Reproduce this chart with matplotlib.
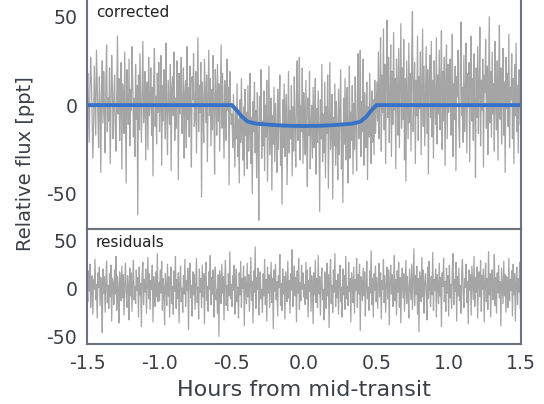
import numpy as np
import matplotlib
matplotlib.use("Agg")
import matplotlib.pyplot as plt

plt.rcParams["axes.unicode_minus"] = False

# detrended flux (ppt), left to right
flux_pre = [5, 18, -3, -21, 9, 27, 14, -8, -30, -12, 22, 3, -17, 31, 11, -6, -24, 16, 0, -38,
            7, 25, -10, 19, -2, -27, 13, 34, -15, 4, -9, 21, -33, -4, 28, 10, -19, 2, 17, -13,
            -26, 8, 39, -5, 15, -20, -1, 24, -36, 12, 6, -16, 30, -7, -44, 20, 1, -11, 26, -23,
            9, -3, 33, 14, -18, 4, -29, 23, -8, 11, -62, 17, -14, 29, 3, -21, 8, 36, -10, -2,
            19, -31, 6, 13, -25, 27, -6, 0, 21, -17, 10, -40, 15, 32, -12, 5, -22, 18, -4, 24,
            -15, 2, 28, -34, 11, -9, 20, 7, -19, 35, -3, -28, 14, 1, -11, 23, -37, 9, 16, -6,
            30, -20, 4, -13, 25, 12, -42, 18, -5, 8, 27, -16, -1, 21, -30, 6, 14, -24, 33, -8,
            10, -18, 22, -2, -35, 16, 3, 29, -12, -7, 19, -27, 5, 38, -15, 11, -4, 24, -52, 13,
            1, -21, 26, 8, -10, 17, -32, 4, 31, -6, 15, -23, 9, -14, 28, -1, -39, 20, 6, -17,
            23, -9, 12, -26, 3, 34, -13, 18, -5, -30, 14, 7, -20, 26, -3, 10, -45, 19, 2, -11]
flux_in = [-5, -24, 6, -16, -35, -2, -19, 12, -29, -8, -44, 3, -21, 15, -13, -31, -1, -40, 9, -17,
           -4, -36, 11, -26, -12, 18, -33, -7, -50, 2, -15, 13, -27, -3, -41, 7, -20, -65, 5, -11,
           20, -30, -9, -23, 8, -37, 0, -18, 14, -43, -10, 22, -28, -14, 4, -48, -6, -22, 10, -32,
           1, -16, -38, 9, -25, -2, 17, -34, -12, -56, 3, -24, 12, -29, -5, 6, -45, -15, 19, -27,
           -3, -19, 11, -40, -1, -26, 16, -13, -35, 5, 25, -20, -9, 27, -31, 0, -15, 21, -33, 7,
           -8, -28, 14, -22, -46, 4, -17, 19, -36, -11, 0, -30, 10, -24, -6, 15, -39, -2, -21, 8,
           -14, -60, 3, -19, 23, -32, -5, -27, 13, -41, -1, -16, 17, -47, -10, 24, -25, -13, 6, -53,
           -7, -23, 12, -34, 2, -18, -42, 9, -28, -3, 20, -36, -12, -55, 4, -22, 15, -31, -8, 10,
           -44, -14, 22, -30, -4, -20, 11, -39, 1, -25, 16, -13, -37, 5, 29, -19, -9, 31, -29, 2,
           -15, 26, -34, 7, -6, -24, 13, -42, -1, -18, 18, -10, -33, 8, -21, 3, -28, 14, -16, -3]
flux_post = [13, -9, 30, -19, 6, 38, -26, 17, -4, 43, -14, 23, -33, 11, 48, -7, 27, -21, 4, 34,
             -29, 19, -11, 41, -3, 15, -36, 26, 9, -17, 32, -24, 11, 46, -13, 21, -8, 37, -31, 15,
             -43, 25, 3, -19, 35, -10, 18, -26, 29, 53, -15, 7, 24, -33, 14, -6, 39, -20, 16, -2,
             30, -28, 10, 43, -12, 22, -23, 5, 33, -16, 20, -39, 12, 28, -7, 36, -18, 14, -30, 25,
             2, -11, 38, -22, 17, -5, 31, -14, 9, 42, -25, 19, -9, 27, -34, 13, 34, -19, 23, -4,
             8, 26, -17, 3, 40, -29, 12, -8, 22, -37, 16, 5, 31, -12, -24, 20, 47, -6, 10, -21,
             28, -15, 6, 35, -27, 18, -1, 24, -32, 11, 39, -9, 15, -20, 29, 2, -41, 21, -7, 33,
             -16, 9, 44, -23, 14, -3, 26, -35, 17, 7, 37, -13, 22, -28, 4, 50, -10, 19, -18, 30,
             -5, 12, -26, 36, 1, -14, 25, -31, 16, 45, -8, 21, -22, 8, 32, -17, 13, -38, 27, -2,
             18, -12, 40, -24, 10, 3, 29, -19, 15, -33, 23, -6, 35, -15, 11, -27, 20, 6, -11, 26]
flux = flux_pre + flux_in + flux_post

# residuals (ppt), bottom panel
resid = [6, -14, 18, -3, 25, -20, 2, 13, -27, 9, -1, 30, -12, 4, -31, 16, 1, 22, -18, 11,
         -7, -46, 20, -5, 12, -25, 8, 28, -15, 3, -21, 15, -9, 24, -34, 10, 5, -17, 19, -6,
         33, -23, 12, 0, -36, 17, 6, -13, 23, -10, 14, -28, 4, 26, -5, -20, 13, 2, -33, 21,
         -8, 16, -24, 7, 29, -12, 2, -16, 19, -2, 11, -30, 22, -7, 5, -40, 14, 27, -17, 9,
         -4, 20, -26, 3, 32, -11, 15, -22, 8, -1, 24, -35, 12, 1, -19, 17, -9, 36, -14, 6,
         -13, 19, -5, 28, -23, 10, 0, -38, 15, 4, -18, 25, -8, 12, -30, 7, 22, -16, 2, -27,
         18, -3, 33, -21, 9, -11, 16, -36, 5, 23, -14, 0, -25, 13, -6, 30, -19, 8, -2, 21,
         -43, 11, 26, -10, 3, -29, 17, -7, 14, -22, 6, 31, -15, 1, -32, 20, -4, 10, -20, 24,
         -9, 15, -37, 8, 27, -13, 2, -24, 17, -1, 34, -17, 11, -6, 19, -30, 5, 22, -12, -1,
         -26, 14, -50, 18, 7, -16, 25, -5, 12, -33, 9, 29, -18, 3, -23, 15, -8, 38, -11, 4,
         -19, 13, -2, 24, -27, 8, 20, -14, 1, -31, 16, -7, 28, -20, 10, 0, 23, -39, 12, 5,
         -16, 26, -9, 14, -24, 3, 32, -13, 7, -36, 18, -4, 43, -21, 11, -1, 21, -28, 6, 17,
         -11, -1, -25, 15, -8, 30, -17, 9, -34, 22, -5, 14, -20, 2, 27, -15, 10, -42, 19, -3,
         25, -12, 7, -29, 13, 1, 35, -18, 5, -23, 20, -6, 12, -32, 17, 0, -14, 28, -10, 8,
         -26, 15, -2, 40, -19, 4, 23, -8, 11, -35, 18, -5, 31, -22, 6, -13, 24, -1, 16, -9,
         4, -17, 27, -11, 19, -30, 8, -3, 22, -24, 13, 2, -37, 16, -7, 29, -15, 10, -20, 34,
         -6, 12, -28, 5, 21, -12, -1, -33, 17, 9, -21, 26, -8, 14, -41, 11, 30, -16, 3, -25,
         19, -4, 36, -19, 8, -10, 15, -27, 6, 24, -14, 1, -30, 20, -7, 13, -22, 33, -11, 2,
         -18, 27, -3, 10, -35, 16, 5, -15, 22, -26, 9, -2, 31, -20, 14, -6, 25, -44, 12, 7,
         -13, 21, -8, 17, -29, 4, 28, -11, 1, -23, 18, -5, 39, -17, 10, -30, 15, -2, 23, -14,
         11, -21, 5, 26, -9, 16, -32, 8, -1, 30, -15, 13, -25, 3, 22, -11, 19, -38, 7, 24,
         -6, 14, -19, 2, 34, -13, 9, -28, 18, -4, 27, -20, 11, -36, 6, 21, -10, 15, -24, 1,
         29, -16, 12, -3, -31, 20, 4, -12, 25, -22, 8, 41, -18, 13, -7, 23, -27, 10, -45, 17,
         3, -14, 32, -9, 19, -26, 6, 15, -4, -33, 22, -11, 28, 0, -19, 12, -7, 37, -23, 9,
         -2, 20, -30, 14, 5, -16, 26, -8, 11, -40, 16, 2, 31, -14, 7, -24, 21, -5, 13, -29,
         24, -10, 4, -21, 18, 36, -17, 9, -3, 27, -34, 12, -8, 21, -13, 3, -26, 16, 30, -6,
         -20, 10, 1, 25, -15, 7, -37, 19, -2, 14, -28, 23, 5, -12, 33, -19, 11, -4, 22, -31,
         8, 17, -9, 29, -24, 13, -1, 20, -35, 6, 26, -14, 10, -22, 38, -7, 15, -30, 4, 19,
         -12, 2, 35, -18, 11, -26, 16, -5, 24, -10, 7, -39, 21, 1, -16, 28, -8, 14, -25, 12,
         3, -20, 31, -13, 9, -2, 18, -29, 25, -7, 15, -34, 6, 22, -17, 10, -4, 27, -22, 8]

# transit model (ppt)
model_t = [-1.5, -0.5, -0.47, -0.43, -0.39, -0.33, -0.2, -0.1, 0.0, 0.1, 0.2, 0.33, 0.39, 0.43, 0.47, 0.5, 1.5]
model_f = [0, 0, -2.5, -6.5, -9.3, -10.5, -11.3, -11.7, -11.8, -11.7, -11.3, -10.5, -9.3, -6.5, -2.5, 0, 0]

TEXT = "#3b3f47"
FRAME = "#6b7380"
GRAY = "#7a7a7a"
BLUE = "#3873c8"

t_flux = np.linspace(-1.5, 1.5, len(flux))
t_resid = np.linspace(-1.5, 1.5, len(resid))

fig = plt.figure(figsize=(5.44, 4.04), dpi=100)
ax1 = fig.add_axes([0.16, 0.433, 0.798, 0.572])
ax2 = fig.add_axes([0.16, 0.1485, 0.798, 0.2845])

ax1.plot(t_flux, flux, color=GRAY, lw=0.9, alpha=0.68)
ax1.plot(model_t, model_f, color=BLUE, lw=2.8)
ax1.set_ylim(-70, 60.5)
ax1.set_yticks([-50, 0, 50])
ax1.set_xticklabels([])
ax1.text(0.02, 0.968, "corrected", transform=ax1.transAxes, ha="left", va="top",
         fontsize=11, color="#222222")

ax2.plot(t_resid, resid, color=GRAY, lw=0.9, alpha=0.68)
ax2.set_ylim(-58, 61.5)
ax2.set_yticks([-50, 0, 50])
ax2.text(0.02, 0.95, "residuals", transform=ax2.transAxes, ha="left", va="top",
         fontsize=11, color="#222222")
ax2.set_xlabel("Hours from mid-transit", fontsize=16, color=TEXT, labelpad=5)

for ax in (ax1, ax2):
    ax.set_xlim(-1.5, 1.5)
    ax.set_xticks([-1.5, -1.0, -0.5, 0.0, 0.5, 1.0, 1.5])
    ax.tick_params(length=0, labelsize=13.6, labelcolor=TEXT, pad=7)
    for s in ax.spines.values():
        s.set_color(FRAME)
        s.set_linewidth(1.5)
ax2.set_xticklabels(["-1.5", "-1.0", "-0.5", "0.0", "0.5", "1.0", "1.5"])

fig.text(0.046, 0.594, "Relative flux [ppt]", rotation=90, ha="center", va="center",
         fontsize=14, color=TEXT)

fig.savefig("out.png", dpi=100)
